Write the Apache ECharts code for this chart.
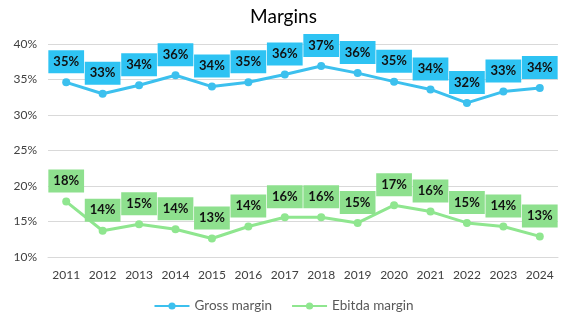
<!DOCTYPE html>
<html>
<head>
<meta charset="utf-8">
<script src="https://cdn.jsdelivr.net/npm/echarts@6/dist/echarts.min.js"></script>
<style>html,body{margin:0;padding:0;background:#fff;}#c{width:567px;height:333px;}</style>
</head>
<body>
<div id="c"></div>
<script>
const years = ['2011','2012','2013','2014','2015','2016','2017','2018','2019','2020','2021','2022','2023','2024'];
const grossMargin = [34.6, 33.0, 34.2, 35.6, 34.0, 34.6, 35.7, 36.9, 35.9, 34.7, 33.6, 31.7, 33.3, 33.8];
const ebitdaMargin = [17.8, 13.7, 14.6, 13.9, 12.6, 14.3, 15.6, 15.6, 14.8, 17.3, 16.4, 14.8, 14.3, 12.9];
const yTicks = {min: 10, max: 40, interval: 5};

const FONT = 'Lato';
const chart = echarts.init(document.getElementById('c'), null, {renderer: 'canvas'});

function series(name, data, lineColor, boxColor) {
  return {
    name: name,
    type: 'line',
    data: data,
    symbol: 'circle',
    symbolSize: 8,
    lineStyle: {color: lineColor, width: 3},
    itemStyle: {color: lineColor},
    label: {
      show: true,
      position: 'top',
      distance: 5,
      formatter: p => Math.round(p.value) + '%',
      backgroundColor: boxColor,
      color: '#111',
      fontFamily: FONT,
      fontWeight: 'bold',
      fontSize: 13,
      lineHeight: 13,
      padding: [5, 5, 5, 5]
    },
    emphasis: {disabled: true},
    animation: false
  };
}

chart.setOption({
  animation: false,
  title: {
    text: 'Margins',
    left: 'center',
    top: 2,
    textStyle: {fontFamily: FONT, fontSize: 19, fontWeight: 'normal', color: '#000'}
  },
  legend: {
    bottom: 15,
    left: 'center',
    itemWidth: 35,
    itemHeight: 9,
    itemGap: 19,
    textStyle: {fontFamily: FONT, fontSize: 13.5, color: '#595959'},
    data: ['Gross margin', 'Ebitda margin']
  },
  grid: {left: 48, right: 9, top: 44, bottom: 76, containLabel: false},
  xAxis: {
    type: 'category',
    data: years,
    boundaryGap: true,
    axisLine: {show: true, lineStyle: {color: '#d9d9d9', width: 1}},
    axisTick: {show: false},
    axisLabel: {fontFamily: FONT, fontSize: 12, color: '#404040', margin: 12}
  },
  yAxis: {
    type: 'value',
    min: yTicks.min,
    max: yTicks.max,
    interval: yTicks.interval,
    axisLine: {show: false},
    axisTick: {show: false},
    splitLine: {lineStyle: {color: '#d9d9d9', width: 1}},
    axisLabel: {formatter: '{value}%', fontFamily: FONT, fontSize: 12, color: '#404040', margin: 11}
  },
  series: [
    series('Gross margin', grossMargin, '#3cc0ee', '#2ec3f3'),
    series('Ebitda margin', ebitdaMargin, '#8fe68f', '#8ee08e')
  ]
});
</script>
</body>
</html>
